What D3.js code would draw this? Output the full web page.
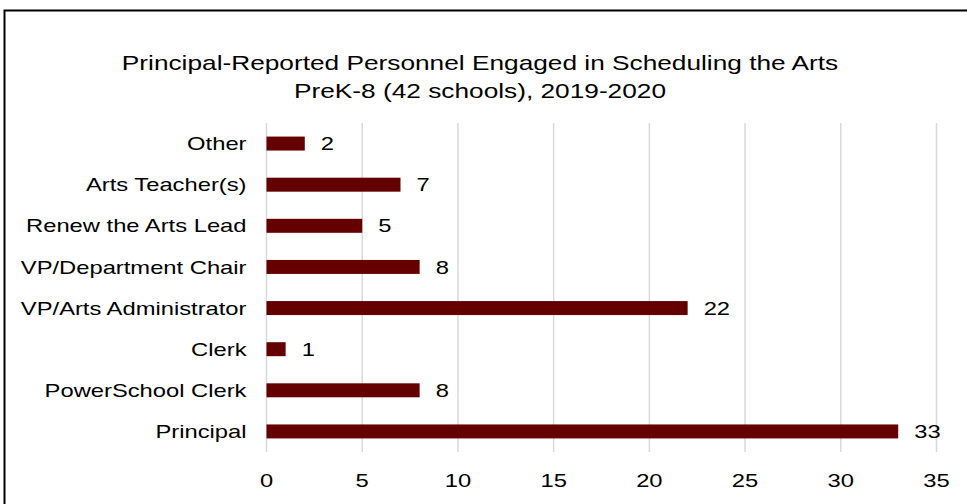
<!DOCTYPE html>
<html>
<head>
<meta charset="utf-8">
<script src="https://cdn.jsdelivr.net/npm/d3@7"></script>
<style>
  html, body { margin: 0; padding: 0; background: #fff; }
  svg { display: block; }
  text { font-family: "Liberation Sans", Arial, sans-serif; fill: #000; }
</style>
</head>
<body>
<svg id="chart" width="967" height="504"></svg>
<script>
// Personnel engaged in arts scheduling (top to bottom)
const categories = [
  "Other",
  "Arts Teacher(s)",
  "Renew the Arts Lead",
  "VP/Department Chair",
  "VP/Arts Administrator",
  "Clerk",
  "PowerSchool Clerk",
  "Principal"
];
const schoolCounts = [2, 7, 5, 8, 22, 1, 8, 33];
const xTicks = [0, 5, 10, 15, 20, 25, 30, 35];
const titleLines = [
  "Principal-Reported Personnel Engaged in Scheduling the Arts",
  "PreK-8 (42 schools), 2019-2020"
];

const svg = d3.select("#chart");
const W = 967, H = 504;
const margin = { top: 123, right: 30.5, bottom: 52, left: 266.5 };
const stretch = 1.25; // horizontal text expansion

const x = d3.scaleLinear().domain([0, 35]).range([margin.left, W - margin.right]);
const y = d3.scaleBand().domain(categories)
  .range([margin.top, H - margin.bottom])
  .paddingInner(0.66).paddingOuter(0.33);

// horizontally widened text anchored at (px, py)
function wideText(g, px, py) {
  return g.append("text")
    .attr("transform", `translate(${px},${py}) scale(${stretch},1)`);
}

// frame
svg.append("path")
  .attr("d", `M4.5,${H} V10.5 H${W}`)
  .attr("fill", "none").attr("stroke", "#000").attr("stroke-width", 2);

// title
const titleG = svg.append("g");
titleLines.forEach((t, i) => {
  wideText(titleG, 480, 70 + i * 28)
    .attr("text-anchor", "middle")
    .style("font-size", "21px")
    .text(t);
});

// vertical gridlines
svg.append("g").selectAll("line").data(xTicks).join("line")
  .attr("x1", d => x(d)).attr("x2", d => x(d))
  .attr("y1", margin.top).attr("y2", H - margin.bottom)
  .attr("stroke", "#d9d9d9").attr("stroke-width", 1.5);

// x tick labels
const tickG = svg.append("g");
xTicks.forEach(t => {
  wideText(tickG, x(t), 487)
    .attr("text-anchor", "middle")
    .style("font-size", "19px")
    .text(t);
});

// bars
svg.append("g").selectAll("rect").data(categories).join("rect")
  .attr("x", x(0))
  .attr("y", d => y(d))
  .attr("width", (d, i) => x(schoolCounts[i]) - x(0))
  .attr("height", y.bandwidth())
  .attr("fill", "#640000");

// category labels
const catG = svg.append("g");
categories.forEach(c => {
  wideText(catG, x(0) - 20, y(c) + y.bandwidth() / 2)
    .attr("text-anchor", "end")
    .attr("dy", "0.35em")
    .style("font-size", "19px")
    .text(c);
});

// value labels
const valG = svg.append("g");
categories.forEach((c, i) => {
  wideText(valG, x(schoolCounts[i]) + 16, y(c) + y.bandwidth() / 2)
    .attr("dy", "0.35em")
    .style("font-size", "19px")
    .text(schoolCounts[i]);
});
</script>
</body>
</html>
